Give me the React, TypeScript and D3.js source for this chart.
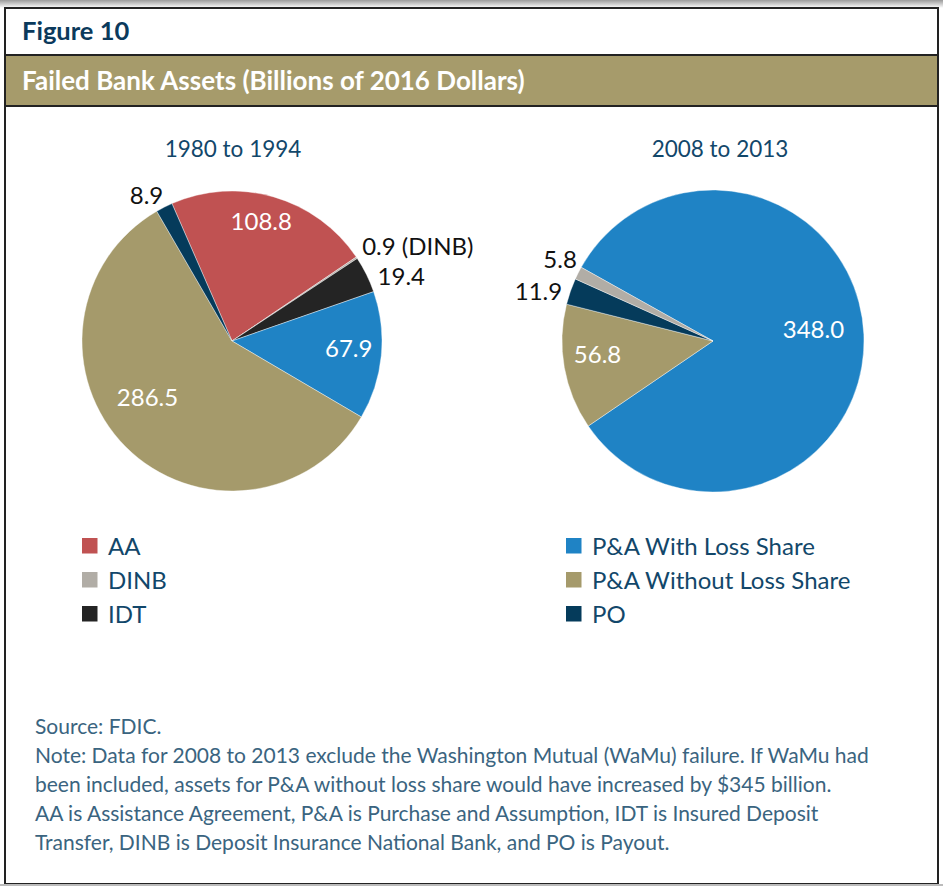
import { useMemo } from "react";
import * as d3 from "d3";

// 1980 to 1994 slices, clockwise from the AA slice
const earlyLabels = ["AA", "DINB", "IDT", "P&A With Loss Share", "P&A Without Loss Share", "PO"];
const earlyValues = [108.8, 0.9, 19.4, 67.9, 286.5, 8.9];
const earlyText = ["108.8", "0.9 (DINB)", "19.4", "67.9", "286.5", "8.9"];

// 2008 to 2013 slices
const lateLabels = ["P&A With Loss Share", "P&A Without Loss Share", "PO", "DINB"];
const lateValues = [348.0, 56.8, 11.9, 5.8];
const lateText = ["348.0", "56.8", "11.9", "5.8"];

const leftLegend = ["AA", "DINB", "IDT"];
const rightLegend = ["P&A With Loss Share", "P&A Without Loss Share", "PO"];

const noteLines = [
  "Source: FDIC.",
  "Note: Data for 2008 to 2013 exclude the Washington Mutual (WaMu) failure. If WaMu had",
  "been included, assets for P&A without loss share would have increased by $345 billion.",
  "AA is Assistance Agreement, P&A is Purchase and Assumption, IDT is Insured Deposit",
  "Transfer, DINB is Deposit Insurance National Bank, and PO is Payout.",
];

const color = d3
  .scaleOrdinal<string, string>()
  .domain(["AA", "DINB", "IDT", "P&A With Loss Share", "P&A Without Loss Share", "PO"])
  .range(["#c05252", "#b1ada6", "#242424", "#1f83c5", "#a59a6b", "#053b5b"]);

const W = 943;
const H = 886;
const font = "Lato, 'Open Sans', sans-serif";
const deg = Math.PI / 180;

// label placement per slice: [radius as share of r, angle nudge in degrees]
type Place = [number, number];

type PieProps = {
  cx: number;
  cy: number;
  r: number;
  title: string;
  titleX: number;
  labels: string[];
  values: number[];
  text: string[];
  start: number;
  inside: boolean[];
  place: Place[];
};

function Pie({ cx, cy, r, title, titleX, labels, values, text, start, inside, place }: PieProps) {
  const arcs = useMemo(() => {
    const pie = d3
      .pie<number>()
      .sort(null)
      .startAngle(start * deg)
      .endAngle(start * deg + 2 * Math.PI)
      .value((d) => d);
    return pie(values);
  }, [values, start]);
  const arc = d3.arc<d3.PieArcDatum<number>>().innerRadius(0).outerRadius(r);

  return (
    <g>
      <text x={titleX} y={cy - 184} textAnchor="middle" fontSize={22.5} fill="#12476a" fontFamily={font}>
        {title}
      </text>
      <g transform={`translate(${cx},${cy})`}>
        {arcs.map((a, i) => (
          <path key={i} d={arc(a) ?? ""} fill={color(labels[i])} stroke="#fff" strokeWidth={0.4} />
        ))}
        {arcs.map((a, i) => {
          const mid = (a.startAngle + a.endAngle) / 2 + place[i][1] * deg;
          const [x, y] = d3.pointRadial(mid, r * place[i][0]);
          const right = Math.sin(mid) > 0;
          return (
            <text
              key={i}
              x={x}
              y={y}
              dy="0.35em"
              textAnchor={inside[i] ? "middle" : right ? "start" : "end"}
              fontSize={24}
              fill={inside[i] ? "#fff" : "#111"}
              fontFamily={font}
            >
              {text[i]}
            </text>
          );
        })}
      </g>
    </g>
  );
}

function Legend({ x, y, items }: { x: number; y: number; items: string[] }) {
  const step = d3.scaleBand<string>().domain(items).range([y, y + 34 * items.length]);
  return (
    <g>
      {items.map((d) => (
        <g key={d} transform={`translate(${x},${step(d)})`}>
          <rect x={0} y={0} width={15.5} height={15.5} fill={color(d)} />
          <text x={26} y={17} fontSize={24} fill="#12476a" fontFamily={font}>
            {d}
          </text>
        </g>
      ))}
    </g>
  );
}

export default function App() {
  return (
    <svg
      width={W}
      height={H}
      style={{ position: "absolute", left: 0, top: 0, background: "#fff" }}
    >
      <defs>
        <linearGradient id="shade" x1="0" y1="0" x2="0" y2="1">
          <stop offset="0" stopColor="#9a9a9a" />
          <stop offset="1" stopColor="#fff" />
        </linearGradient>
      </defs>
      <rect x={0} y={0} width={W} height={8} fill="url(#shade)" />
      <rect x={5} y={8} width={933} height={876} fill="#fff" stroke="#222" strokeWidth={2} />
      <line x1={0} x2={W} y1={885} y2={885} stroke="#bbb" strokeWidth={2} />

      <text x={22} y={40} fontSize={25.5} fontWeight={700} fill="#0b3a5c" fontFamily={font}>
        Figure 10
      </text>
      <rect x={5} y={55} width={933} height={51} fill="#a69b6b" stroke="#222" strokeWidth={2} />
      <text x={22} y={90} fontSize={26} fontWeight={700} fill="#fff" fontFamily={font}>
        Failed Bank Assets (Billions of 2016 Dollars)
      </text>

      <Pie
        cx={232}
        cy={341}
        r={150}
        title="1980 to 1994"
        titleX={233}
        labels={earlyLabels}
        values={earlyValues}
        text={earlyText}
        start={-23.6}
        inside={[true, false, false, true, true, false]}
        place={[
          [0.82, -2.4],
          [1.07, -2.1],
          [1.06, 2.6],
          [0.78, -1.7],
          [0.68, 10.8],
          [1.07, 1.5],
        ]}
      />
      <Pie
        cx={713}
        cy={341}
        r={151}
        title="2008 to 2013"
        titleX={720}
        labels={lateLabels}
        values={lateValues}
        text={lateText}
        start={-60.8}
        inside={[true, true, false, false]}
        place={[
          [0.67, -4.2],
          [0.77, 3.2],
          [1.05, -1.2],
          [1.05, 4.1],
        ]}
      />

      <Legend x={82} y={538} items={leftLegend} />
      <Legend x={566} y={538} items={rightLegend} />

      {noteLines.map((t, i) => (
        <text key={i} x={35} y={734 + i * 29} fontSize={21} fill="#3a6480" fontFamily={font}>
          {t}
        </text>
      ))}
    </svg>
  );
}
